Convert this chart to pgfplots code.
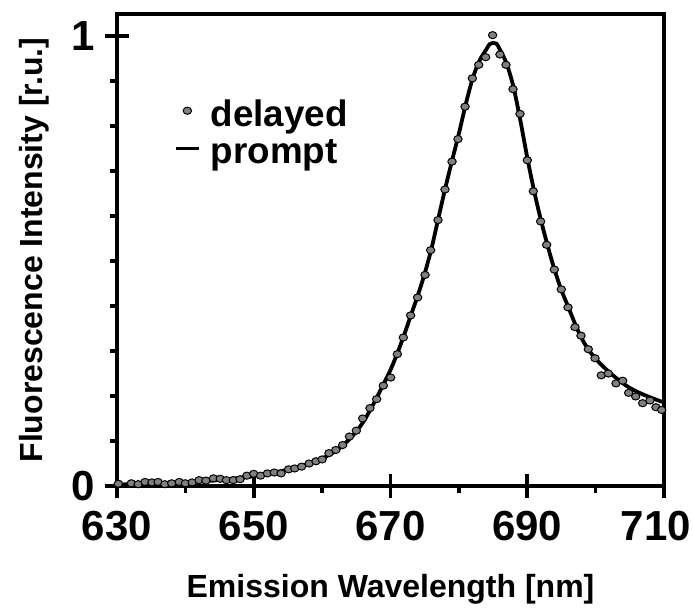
\documentclass[border=0pt]{standalone}
\usepackage{pgfplots}
\pgfplotsset{compat=1.18}
\usepackage{fontspec}
\setmainfont{Liberation Sans}
\begin{document}
\begin{tikzpicture}
\useasboundingbox (-58.5pt,-61.5pt) rectangle (288pt,243pt);
\begin{axis}[
  at={(0,0)}, anchor=south west,
  scale only axis, width=273.5pt, height=236pt,
  xmin=630, xmax=710, ymin=0, ymax=1.049,
  axis line style={line width=2pt},
  xtick={630,650,670,690,710},
  xticklabels={630,650,670,690,{\kern-8pt710}},
  minor xtick={640,660,680,700},
  ytick={0,1},
  minor ytick={0.1,0.2,0.3,0.4,0.5,0.6,0.7,0.8,0.9},
  xtick pos=left, ytick pos=left,
  tick align=center,
  major tick length=12pt, minor tick length=3.5pt,
  every tick/.style={black, line width=1.8pt},
  minor x tick style={yshift=-1.75pt},
  minor y tick style={xshift=-1.75pt},
  /pgf/number format/assume math mode=true,
  ticklabel style={font=\fontsize{21}{25}\selectfont\bfseries},
  xticklabel style={yshift=-3pt},
  yticklabel style={xshift=-1.5pt},
  xlabel={Emission Wavelength [nm]},
  ylabel={Fluorescence Intensity [r.u.]},
  label style={font=\fontsize{16}{19}\selectfont\bfseries},
  xlabel style={at={(axis description cs:0.5,-0.237)}, anchor=base},
  ylabel style={at={(axis description cs:-0.137,0.5)}, anchor=base},
  legend style={at={(axis description cs:0.106,0.812)}, anchor=north west,
    draw=none, fill=none, inner sep=0pt, outer sep=0pt,
    row sep=0pt, column sep=5pt,
    font=\fontsize{18.4}{22}\selectfont\bfseries,
    nodes={text height=12pt, text depth=6.3pt, inner sep=0pt}},
  legend cell align=left,
  reverse legend,
]
\addplot[black, line width=1.9pt, smooth,
  legend image code/.code={\path[draw=none, fill=none] (0pt,-8pt) rectangle (12pt,8pt);
    \draw[black, line width=1.4pt] (0pt,4.5pt) -- (11.5pt,4.5pt);}]
coordinates {
(630,0.003)(632,0.004)(634,0.005)(636,0.006)(638,0.007)(640,0.008)(642,0.010)
(644,0.012)(646,0.015)(648,0.018)(650,0.022)(652,0.027)(654,0.033)(656,0.040)
(658,0.049)(660,0.061)(661,0.069)(662,0.078)(663,0.090)(664,0.104)(665,0.121)
(666,0.142)(667,0.168)(668,0.197)(669,0.227)(670,0.258)(671,0.295)(672,0.336)
(673,0.380)(674,0.424)(675,0.472)(676,0.528)(677,0.595)(678,0.661)(679,0.723)
(680,0.783)(681,0.848)(682,0.905)(683,0.945)(684,0.970)(684.5,0.982)(685,0.985)
(685.5,0.983)(686,0.970)(687,0.938)(688,0.886)(689,0.812)(690,0.730)(691,0.656)
(692,0.591)(693,0.533)(694,0.480)(695,0.435)(696,0.398)(697,0.360)(698,0.327)
(699,0.302)(700,0.283)(701,0.267)(702,0.253)(703,0.240)(704,0.228)(705,0.218)
(706,0.210)(707,0.203)(708,0.197)(709,0.191)(710,0.186)
};
\addlegendentry{prompt}
\addplot[only marks, mark=*, mark size=2.1pt,
  mark options={fill=gray, draw=black, line width=0.5pt, yscale=0.85},
  legend image code/.code={\path[draw=none, fill=none] (0pt,-8pt) rectangle (12pt,8pt);
    \draw[mark=*, mark size=2.1pt, mark options={fill=gray, draw=black, line width=0.5pt, yscale=0.85}] plot coordinates {(5.5pt,5.15pt)};}]
coordinates {
(630.2,0.005)(632.1,0.006)(633.1,0.004)(634.1,0.009)(635.1,0.008)(636.0,0.009)
(637.0,0.004)(638.0,0.006)(639.1,0.009)(640.0,0.006)(641.0,0.008)(642.0,0.013)
(643.0,0.012)(644.1,0.017)(645.1,0.016)(646.0,0.013)(647.0,0.013)(648.0,0.015)
(649.0,0.023)(650.0,0.027)(651.0,0.023)(652.0,0.028)(653.0,0.030)(654.0,0.028)
(655.1,0.037)(656.0,0.039)(657.0,0.043)(658.1,0.050)(659.1,0.055)(660.0,0.059)
(661.0,0.073)(662.0,0.080)(663.0,0.091)(664.0,0.110)(665.0,0.123)(665.93,0.150)
(667.0,0.173)(667.98,0.193)(668.95,0.223)(670.03,0.241)(671.0,0.293)(671.88,0.330)
(672.95,0.379)(673.97,0.419)(675.05,0.469)(675.87,0.524)(676.95,0.591)(677.97,0.659)
(679.0,0.721)(679.87,0.771)(680.9,0.843)(681.97,0.906)(682.9,0.936)(683.92,0.953)
(684.94,1.002)(686.01,0.959)(686.89,0.936)(687.92,0.882)(688.94,0.827)(690.01,0.724)
(690.89,0.655)(691.96,0.588)(692.84,0.536)(693.96,0.481)(694.98,0.437)(695.96,0.397)
(696.98,0.353)(697.86,0.334)(698.93,0.304)(699.91,0.284)(700.83,0.246)(701.86,0.250)
(702.98,0.228)(703.96,0.234)(704.83,0.207)(705.86,0.199)(706.88,0.184)(707.95,0.190)
(708.83,0.175)(709.66,0.169)
};
\addlegendentry{delayed}
\end{axis}
\end{tikzpicture}
\end{document}
